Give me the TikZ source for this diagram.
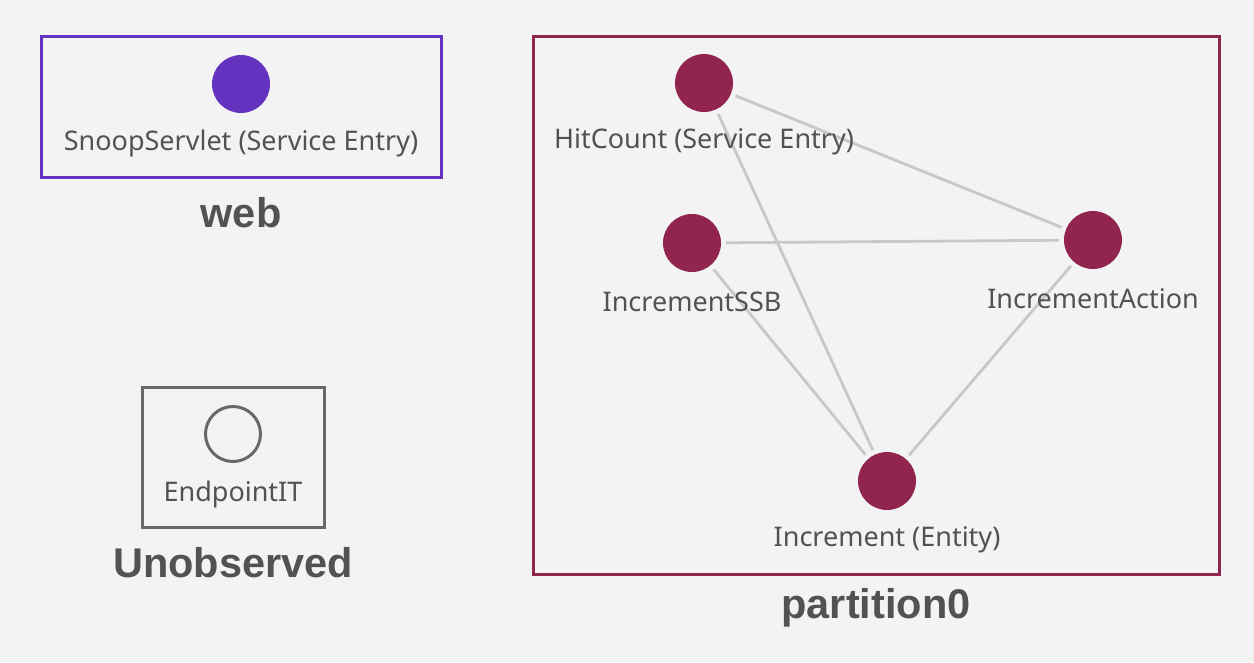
\documentclass[tikz,border=0pt]{standalone}
\usepackage{fontspec}
\setmainfont{Liberation Sans}
\newfontfamily\labfont{Noto Sans}
\definecolor{bg}{HTML}{F3F3F3}
\definecolor{webc}{HTML}{6332BE}
\definecolor{partc}{HTML}{91254F}
\definecolor{unobc}{HTML}{686868}
\definecolor{txtc}{HTML}{525252}
\definecolor{edgec}{HTML}{C8C8C8}
\begin{document}
\begin{tikzpicture}[x=1pt,y=-1pt,
  grp/.style={draw, line width=3pt, fill=none},
  dot/.style={circle, minimum size=58pt, inner sep=0pt, outer sep=5pt},
  lab/.style={text=txtc, font=\labfont\fontsize{27}{30}\selectfont, inner sep=0pt},
  title/.style={text=txtc, font=\bfseries\fontsize{41.5}{44}\selectfont, inner sep=0pt},
  edge/.style={draw=edgec, line width=2.8pt}]
\fill[bg] (0,0) rectangle (1254,662);
\useasboundingbox (0,0) rectangle (1254,662);
% groups
\draw[grp, webc] (41,36) rectangle (441,177);
\draw[grp, unobc] (142,387) rectangle (324,527);
\draw[grp, partc] (533,36) rectangle (1219,574);
\node[title] (tweb) at (241,213) {web};
\node[title] (tunob) at (233,563) {Unobserved};
\node[title] (tpart) at (876,608) {partition0};
% nodes
\node[dot, fill=webc] (snoop) at (241,84) {};
\node[lab] (lsnoop) at (241,143) {SnoopServlet (Service Entry)};
\node[dot, draw=unobc, line width=3pt, minimum size=55pt] (endp) at (233,434) {};
\node[lab] (lendp) at (233,494) {EndpointIT};
\node[dot, fill=partc] (hit) at (704,83) {};
\node[dot, fill=partc] (ssb) at (692,243) {};
\node[dot, fill=partc] (act) at (1093,240) {};
\node[dot, fill=partc] (inc) at (887,481) {};
% edges
\draw[edge] (hit) -- (act);
\draw[edge] (hit) -- (inc);
\draw[edge] (ssb) -- (act);
\draw[edge] (ssb) -- (inc);
\draw[edge] (act) -- (inc);
\node[lab] (lhit) at (704,142) {HitCount (Service Entry)};
\node[lab] (lssb) at (692,302) {IncrementSSB};
\node[lab] (lact) at (1093,299) {IncrementAction};
\node[lab] (linc) at (887,540) {Increment (Entity)};
\end{tikzpicture}
\end{document}
